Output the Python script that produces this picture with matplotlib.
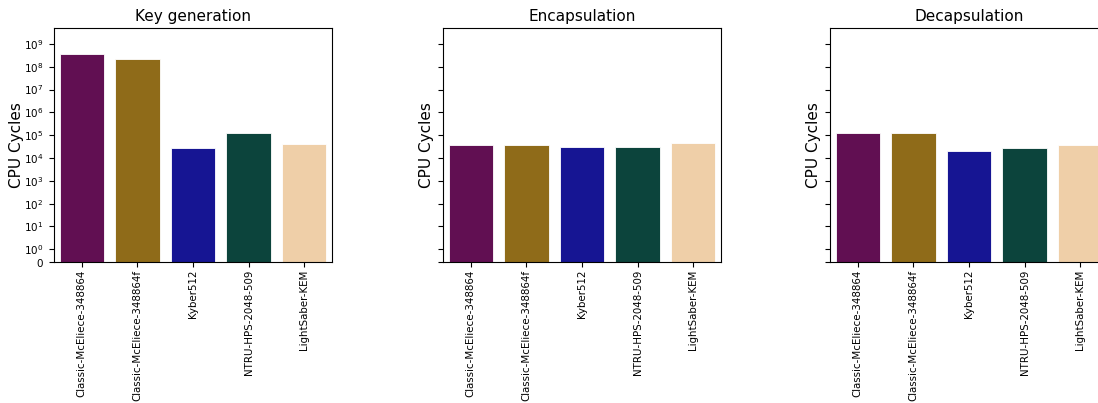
import matplotlib
matplotlib.use("Agg")
import matplotlib.pyplot as plt
from matplotlib.ticker import NullLocator, FixedLocator

schemes = ["Classic-McEliece-348864", "Classic-McEliece-348864f", "Kyber512",
           "NTRU-HPS-2048-509", "LightSaber-KEM"]
keygen_cycles = [3.5e8, 2.3e8, 2.8e4, 1.3e5, 4.2e4]
encaps_cycles = [3.8e4, 3.8e4, 3.2e4, 3.0e4, 4.4e4]
decaps_cycles = [1.23e5, 1.23e5, 2.1e4, 2.7e4, 3.7e4]
titles = ["Key generation", "Encapsulation", "Decapsulation"]
colors = ["#610f52", "#8f6b19", "#161593", "#0c443c", "#efcfa8"]

fig = plt.figure(figsize=(10.98, 4.03), dpi=100)
lefts = [0.0492, 0.4035, 0.7559]
width, bottom, height = 0.2532, 0.3499, 0.5806

yticks = [0] + [10 ** k for k in range(10)]
first = None
for i, (vals, title) in enumerate(zip([keygen_cycles, encaps_cycles, decaps_cycles], titles)):
    ax = fig.add_axes([lefts[i], bottom, width, height], sharey=first)
    if first is None:
        first = ax
    x = list(range(len(schemes)))
    ax.bar(x, vals, width=0.8, color=colors, edgecolor="white", linewidth=0.6)
    ax.set_yscale("symlog", linthresh=1, linscale=0.5)
    ax.set_ylim(0, 5e9)
    ax.yaxis.set_major_locator(FixedLocator(yticks))
    ax.yaxis.set_minor_locator(NullLocator())
    ax.set_xlim(-0.5, len(schemes) - 0.5)
    ax.set_xticks(x)
    ax.set_xticklabels(schemes, rotation=90, fontsize=7.4)
    ax.tick_params(axis="y", labelsize=7.5, pad=4)
    ax.tick_params(axis="x", pad=2)
    ax.set_ylabel("CPU Cycles", fontsize=11)
    if i > 0:
        ax.tick_params(axis="y", labelleft=False)
        ax.yaxis.set_label_coords(-0.032, 0.5)
    else:
        ax.yaxis.set_label_coords(-0.108, 0.5)
    ax.set_title(title, fontsize=11, pad=5)

fig.savefig("out.png", dpi=100)
